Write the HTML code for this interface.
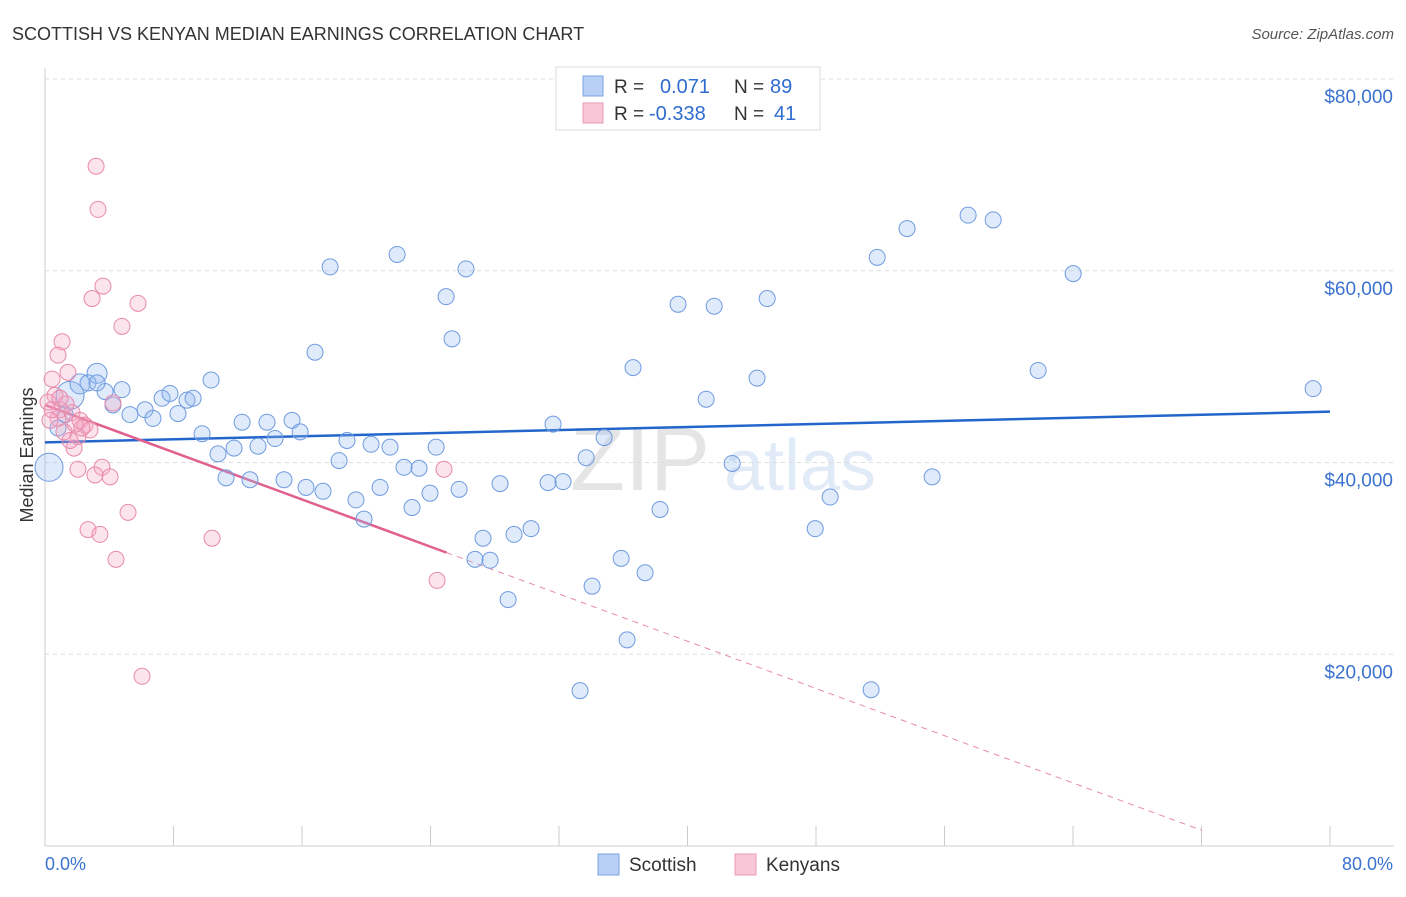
<!DOCTYPE html>
<html><head><meta charset="utf-8"><style>
body{margin:0;background:#fff;font-family:"Liberation Sans",sans-serif;}
svg text{font-family:"Liberation Sans",sans-serif;}
</style></head><body>
<svg width="1406" height="892" id="chart">
<text x="12" y="40" font-size="18" fill="#333">SCOTTISH VS KENYAN MEDIAN EARNINGS CORRELATION CHART</text>
<text x="1394" y="39" font-size="15" fill="#555" font-style="italic" text-anchor="end">Source: ZipAtlas.com</text>
<text x="33" y="455" font-size="18" fill="#333" text-anchor="middle" transform="rotate(-90 33 455)">Median Earnings</text>
<g opacity="0.25">
<text x="640" y="490" font-size="90" fill="#999" font-family="Liberation Serif" text-anchor="middle">ZIP</text>
<text x="800" y="490" font-size="72" fill="#8ab0e0" text-anchor="middle">atlas</text>
</g>
<g id="grid"></g><g id="axes"></g><g id="trend"></g><g id="pts"></g>
<g>
<rect x="556" y="67" width="264" height="63" fill="#fff" stroke="#ddd"/>
<rect x="583" y="76" width="20" height="20" fill="#b8d0f5" stroke="#7aa3e0"/>
<rect x="583" y="103" width="20" height="20" fill="#f8c6d6" stroke="#e89ab4"/>
<text x="614" y="93" font-size="19" fill="#333">R = </text><text x="660" y="93" font-size="20" fill="#2f6cd0">0.071</text>
<text x="734" y="93" font-size="19" fill="#333">N = </text><text x="770" y="93" font-size="20" fill="#2f6cd0">89</text>
<text x="614" y="120" font-size="19" fill="#333">R = </text><text x="649" y="120" font-size="20" fill="#2f6cd0">-0.338</text>
<text x="734" y="120" font-size="19" fill="#333">N = </text><text x="774" y="120" font-size="20" fill="#2f6cd0">41</text>
</g>
<g>
<rect x="598" y="854" width="21" height="21" fill="#b8d0f5" stroke="#7aa3e0"/>
<text x="629" y="871" font-size="19" fill="#333">Scottish</text>
<rect x="735" y="854" width="21" height="21" fill="#f8c6d6" stroke="#e89ab4"/>
<text x="766" y="871" font-size="19" fill="#333">Kenyans</text>
</g>
<text x="45" y="870" font-size="18" fill="#3b72d0">0.0%</text>
<text x="1393" y="870" font-size="18" fill="#3b72d0" text-anchor="end">80.0%</text>
</svg>
<script>
const yTicks=[20000,40000,60000,80000];
const yTickLabels=["$20,000","$40,000","$60,000","$80,000"];
const scotX=[0.25,1.56,2.18,3.24,2.68,3.74,4.79,4.23,5.29,6.23,6.72,7.29,7.78,8.28,8.84,9.22,9.78,10.34,10.77,11.27,11.77,12.27,12.76,13.26,13.82,14.32,14.88,15.38,15.88,16.25,16.81,17.31,17.75,18.31,18.8,19.36,19.86,20.3,20.86,21.48,21.92,22.35,22.85,23.29,23.97,24.35,24.97,25.34,25.78,26.21,26.77,27.27,27.71,28.33,28.83,29.2,30.26,31.32,31.63,32.25,33.31,33.69,34.06,34.81,35.87,36.24,36.61,37.36,38.29,39.41,41.16,41.66,42.78,44.33,44.96,47.95,48.88,51.81,51.43,53.67,55.23,57.47,59.03,61.83,64.01,78.95,3.24,0.81,1.25];
const scotY=[39.5,47.0,48.2,49.3,48.3,47.4,47.6,46.0,45.0,45.5,44.6,46.7,47.2,45.1,46.5,46.7,43.0,48.6,40.9,38.4,41.5,44.2,38.2,41.7,44.2,42.5,38.2,44.4,43.2,37.4,51.5,37.0,60.4,40.2,42.3,36.1,34.1,41.9,37.4,41.6,61.7,39.5,35.3,39.4,36.8,41.6,57.3,52.9,37.2,60.2,29.9,32.1,29.8,37.8,25.7,32.5,33.1,37.9,44.0,38.0,16.2,40.5,27.1,42.6,30.0,21.5,49.9,28.5,35.1,56.5,46.6,56.3,39.9,48.8,57.1,33.1,36.4,61.4,16.3,64.4,38.5,65.8,65.3,49.6,59.7,47.7,48.3,43.6,45.0];
const kenX=[3.18,3.3,3.61,2.93,5.79,4.79,1.06,0.81,1.43,0.44,0.62,0.19,0.93,1.68,0.81,2.18,2.49,2.8,1.18,2.05,1.81,4.23,2.05,3.55,3.11,4.05,5.17,2.68,3.42,4.42,10.4,6.04,24.84,24.41,0.31,1.31,2.3,0.44,1.56,0.93,1.87];
const kenY=[70.9,66.4,58.4,57.1,56.6,54.2,52.6,51.2,49.4,48.7,47.0,46.3,45.5,45.2,44.6,44.4,43.9,43.4,43.2,42.7,41.5,46.2,39.3,39.5,38.7,38.5,34.8,33.0,32.5,29.9,32.1,17.7,39.3,27.7,44.4,46.1,43.6,45.5,42.3,46.7,44.0];
const bigScot={0:14,1:14,2:10,3:10};
const scotTrend=[42.1,45.3];
const kenTrend=[46.0,-0.616];
const NS="http://www.w3.org/2000/svg";
const X=v=>45+v/80*1285, Y=v=>846-v/80000*767;
function mk(t,a,p){const e=document.createElementNS(NS,t);for(const k in a)e.setAttribute(k,a[k]);p.appendChild(e);return e;}
const grid=document.getElementById('grid'),axes=document.getElementById('axes'),tr=document.getElementById('trend'),pts=document.getElementById('pts');
[...yTicks].forEach((t,i)=>{
 const l=mk('line',{x1:45,x2:1394,y1:Y(t),y2:Y(t),stroke:'#ddd','stroke-dasharray':'4,4'},grid);
 
 
 const tx=mk('text',{x:1393,y:Y(t)+24,'font-size':19,fill:'#3b72d0','text-anchor':'end'},grid);
 tx.textContent=yTickLabels[i];
 
 
});
const ax=mk('line',{x1:45,x2:1394,y1:846,y2:846,stroke:'#ccc'},axes);


const ay=mk('line',{x1:45,x2:45,y1:68,y2:846,stroke:'#ccc'},axes);


for(let i=0;i<=10;i++){const t=mk('line',{x1:X(i*8),x2:X(i*8),y1:826,y2:846,stroke:'#ccc'},axes);
 
 }
scotX.forEach((x,i)=>{const c=mk('circle',{cx:X(x),cy:Y(scotY[i]*1000),r:bigScot[i]||8,fill:'rgba(150,185,240,0.3)',stroke:'#6f9be0','stroke-width':1},pts);
 
 });
kenX.forEach((x,i)=>{const c=mk('circle',{cx:X(x),cy:Y(kenY[i]*1000),r:8,fill:'rgba(245,165,195,0.3)',stroke:'#e88aaa','stroke-width':1},pts);
 
 });
const bl=mk('line',{x1:X(0),y1:Y(scotTrend[0]*1000),x2:X(80),y2:Y(scotTrend[1]*1000),stroke:'#2266cc','stroke-width':2.5},tr);


const kf=x=>Y((kenTrend[0]+kenTrend[1]*x)*1000);
const pl=mk('line',{x1:X(0),y1:kf(0),x2:X(25),y2:kf(25),stroke:'#e06090','stroke-width':2.5},tr);


const pd=mk('line',{x1:X(25),y1:kf(25),x2:X(72),y2:kf(72),stroke:'#e88aaa','stroke-width':1,'stroke-dasharray':'6,5'},tr);


</script>
</body></html>
